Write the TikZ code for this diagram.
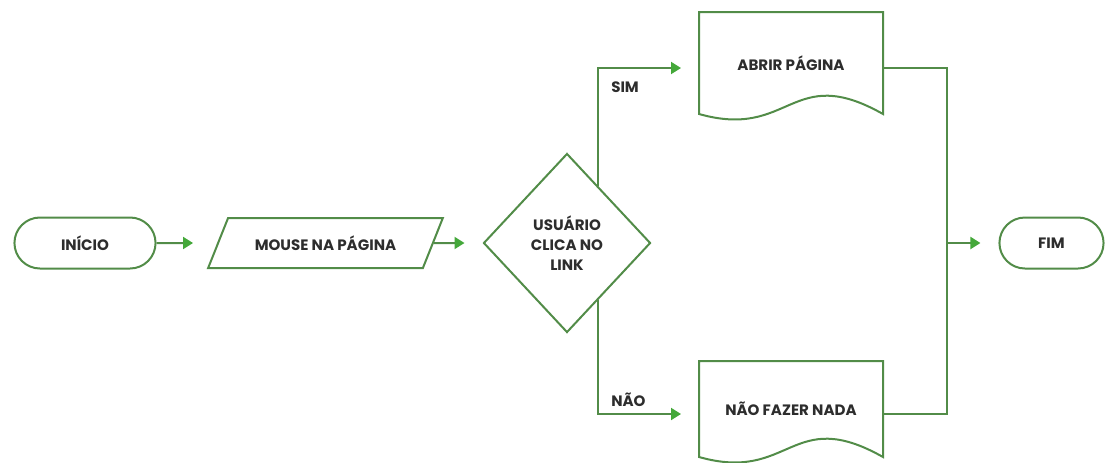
\documentclass[tikz,border=0pt]{standalone}
\usepackage{fontspec}
\setmainfont{Poppins}
\usetikzlibrary{shapes.geometric,shapes.misc,arrows.meta,calc}

\definecolor{linegreen}{RGB}{82,140,72}
\definecolor{tipgreen}{RGB}{68,168,58}
\definecolor{textgray}{RGB}{45,45,45}

\begin{document}
\begin{tikzpicture}[
x=0.75pt, y=-0.75pt,
line width=1.5pt,
every node/.style={
	text=textgray,
	font=\bfseries\fontsize{11.3}{15}\selectfont,
},
]
\useasboundingbox (0,0) rectangle (1115,462);

\tikzset{
	outline/.style={draw=linegreen, line width=1.5pt},
	term/.style={outline, rounded rectangle, minimum width=112.5pt, minimum height=38.25pt},
	io/.style={outline, trapezium, trapezium left angle=57, trapezium right angle=123,
		trapezium stretches=true, minimum width=176.25pt, minimum height=37.5pt},
	decision/.style={outline, diamond, align=center, inner sep=0pt,
		minimum width=125.25pt, minimum height=134.25pt},
	doc/.style={rectangle, minimum width=136.5pt},
	link/.style={draw=linegreen},
	arr/.style={link, -{Triangle[length=7.5pt, width=9pt, color=tipgreen]}, shorten >=13.5pt},
	tag/.style={inner sep=0pt},
}

% shapes
\node[term] (inicio) at (85,243) {INÍCIO};
\node[io] (mouse) at (325.5,243) {MOUSE NA PÁGINA};
\node[decision] (clica) at (567,243) {USUÁRIO\\CLICA NO\\LINK};
\node[doc, minimum height=75pt] (abrir) at (791,63) {ABRIR PÁGINA};
\node[doc, minimum height=70.5pt] (fazer) at (791,409) {NÃO FAZER NADA};
\node[term, minimum width=84.75pt] (fim) at (1051.5,243) {FIM};
\coordinate (join) at (947,243);

% document outlines
\draw[outline] (abrir.south west) -- (abrir.north west) -- (abrir.north east) -- (abrir.south east)
	.. controls ($(abrir.south)+(0,-52)$) and ($(abrir.south)+(0,26)$) .. (abrir.south west) -- cycle;
\draw[outline] (fazer.south west) -- (fazer.north west) -- (fazer.north east) -- (fazer.south east)
	.. controls ($(fazer.south)+(0,-52)$) and ($(fazer.south)+(0,26)$) .. (fazer.south west) -- cycle;

% flow
\draw[arr, shorten >=18pt] (inicio.east) -- (mouse.west);
\draw[arr] (mouse.east) -- (clica.west);
\draw[arr] ($(clica.north)!0.37!(clica.east)$) |- ($(abrir.west)+(0,5)$)
	node[pos=0.5, tag, anchor=north west, xshift=9pt, yshift=-9.5pt] {SIM};
\draw[arr] ($(clica.south)!0.37!(clica.east)$) |- ($(fazer.west)+(0,5)$)
	node[pos=0.5, tag, anchor=south west, xshift=9pt, yshift=5pt] {NÃO};
\draw[link] ($(abrir.east)+(0,5)$) -| (join) |- ($(fazer.east)+(0,5)$);
\draw[arr] (join) -- (fim.west);

\end{tikzpicture}
\end{document}
